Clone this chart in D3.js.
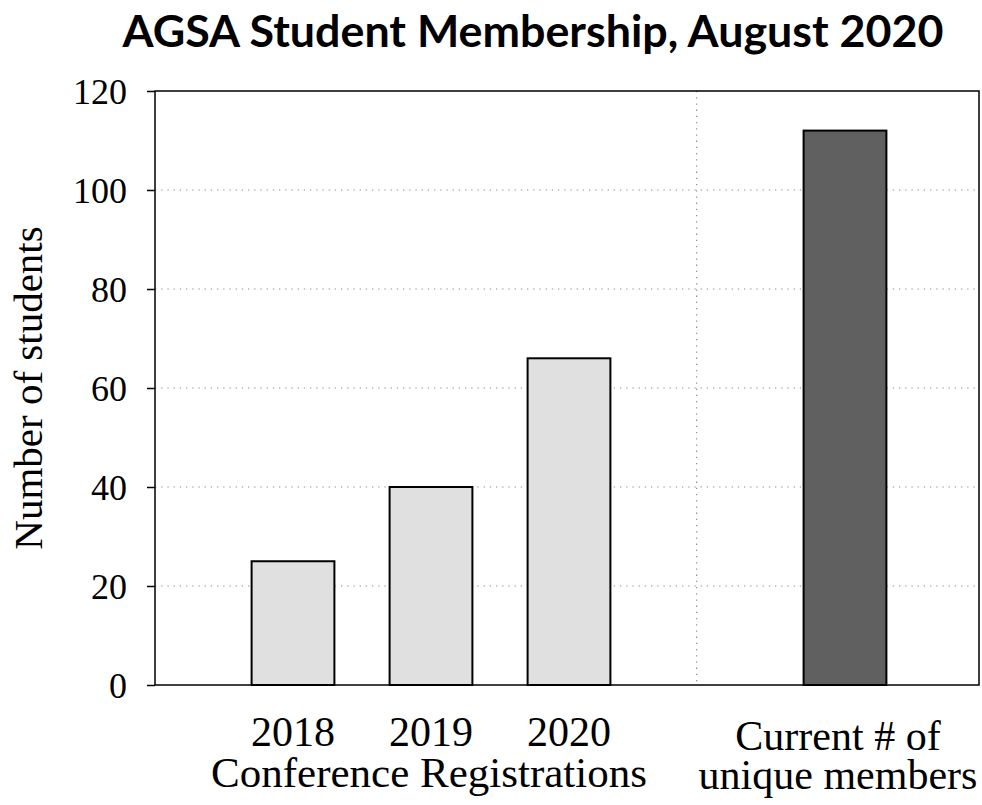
<!DOCTYPE html>
<html>
<head>
<meta charset="utf-8">
<script src="https://cdn.jsdelivr.net/npm/d3@7"></script>
<style>
  html, body { margin: 0; padding: 0; background: #fff; }
  #chart-root { width: 982px; height: 805px; }
  text { fill: #000; }
</style>
</head>
<body>
<div id="chart-root"></div>
<script>
const title = 'AGSA Student Membership, August 2020'
const yLabel = 'Number of students'

// bar categories and counts (registrations per year, then current members)
const categories = ['2018', '2019', '2020', 'current']
const values = [25, 40, 66, 112]
const yTicks = [0, 20, 40, 60, 80, 100, 120]

// label lines under the axis
const yearLabels = ['2018', '2019', '2020']
const groupLabel = 'Conference Registrations'
const currentLabel = ['Current # of', 'unique members']

const serif = '"Liberation Serif", "Times New Roman", serif'

function drawChart(element) {
  const width = 982, height = 805
  const left = 155, right = 979, top = 91, bottom = 685

  const svg = d3.select(element)
    .append('svg')
    .attr('width', width)
    .attr('height', height)

  // empty "sep" slot keeps the gap between the two groups
  const slots = ['2018', '2019', '2020', 'sep', 'current']
  const x = d3.scaleBand()
    .domain(slots)
    .range([224, 914])
    .paddingInner(0.4)
    .paddingOuter(0.2)

  const y = d3.scaleLinear()
    .domain([0, 120])
    .range([bottom, top])

  // dotted grid
  svg.append('g')
    .selectAll('line')
    .data(yTicks.filter(t => t > 0 && t < 120))
    .join('line')
      .attr('x1', left).attr('x2', right)
      .attr('y1', d => y(d)).attr('y2', d => y(d))
      .attr('stroke', '#968a8a')
      .attr('stroke-width', 1.2)
      .attr('stroke-dasharray', '1.3 4.9')

  const divX = x('sep') + x.bandwidth() * 0.375
  svg.append('line')
    .attr('x1', divX).attr('x2', divX)
    .attr('y1', top).attr('y2', bottom)
    .attr('stroke', '#968a8a')
    .attr('stroke-width', 1.2)
    .attr('stroke-dasharray', '1.3 4.9')

  // bars
  svg.append('g')
    .selectAll('rect')
    .data(categories.map((c, i) => ({ c, v: values[i] })))
    .join('rect')
      .attr('x', d => x(d.c))
      .attr('y', d => y(d.v))
      .attr('width', x.bandwidth())
      .attr('height', d => y(0) - y(d.v))
      .attr('fill', d => d.c === 'current' ? '#606060' : '#e0e0e0')
      .attr('stroke', '#000')
      .attr('stroke-width', 2)

  // frame
  svg.append('rect')
    .attr('x', left).attr('y', top)
    .attr('width', right - left).attr('height', bottom - top)
    .attr('fill', 'none')
    .attr('stroke', '#000')
    .attr('stroke-width', 1.5)

  // y axis
  const yAxis = svg.append('g')
    .attr('transform', `translate(${left},0)`)
    .call(d3.axisLeft(y).tickValues(yTicks).tickSize(8).tickPadding(20))
  yAxis.select('.domain').remove()
  yAxis.selectAll('.tick line').attr('stroke', '#000').attr('stroke-width', 1.5)
  yAxis.selectAll('.tick text')
    .style('font-family', serif)
    .style('font-size', '36px')
    .attr('fill', '#000')
    .attr('dy', '0.34em')

  svg.append('text')
    .attr('transform', 'translate(42,388) rotate(-90)')
    .attr('text-anchor', 'middle')
    .style('font-family', serif)
    .style('font-size', '41px')
    .text(yLabel)

  // x labels
  svg.append('g')
    .selectAll('text')
    .data(yearLabels)
    .join('text')
      .attr('x', d => x(d) + x.bandwidth() / 2)
      .attr('y', 746)
      .attr('text-anchor', 'middle')
      .style('font-family', serif)
      .style('font-size', '42px')
      .text(d => d)

  svg.append('text')
    .attr('x', x('2019') + x.bandwidth() / 2 - 2)
    .attr('y', 787)
    .attr('text-anchor', 'middle')
    .style('font-family', serif)
    .style('font-size', '43px')
    .text(groupLabel)

  svg.append('g')
    .selectAll('text')
    .data(currentLabel)
    .join('text')
      .attr('x', x('current') + x.bandwidth() / 2 - 7)
      .attr('y', (d, i) => 750 + i * 39)
      .attr('text-anchor', 'middle')
      .style('font-family', serif)
      .style('font-size', '42px')
      .text(d => d)

  // title
  svg.append('text')
    .attr('x', 533)
    .attr('y', 47)
    .attr('text-anchor', 'middle')
    .style('font-family', 'Lato, "DejaVu Sans", sans-serif')
    .style('font-weight', 'bold')
    .style('font-size', '44px')
    .attr('textLength', 821)
    .attr('lengthAdjust', 'spacingAndGlyphs')
    .text(title)
}

window.addEventListener('load', () => {
  drawChart(document.getElementById('chart-root'))
})
</script>
</body>
</html>
